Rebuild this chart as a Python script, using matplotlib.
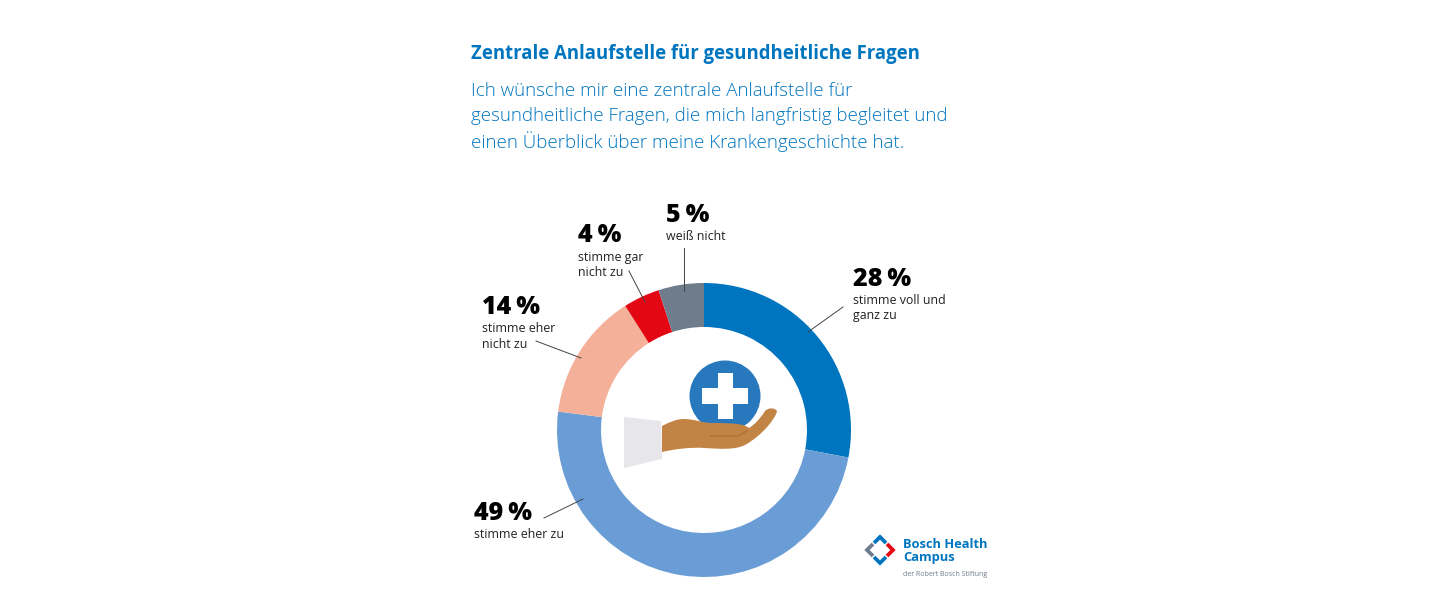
import matplotlib
matplotlib.use("Agg")
import matplotlib.pyplot as plt
from matplotlib.patches import Circle, Polygon, PathPatch
from matplotlib.path import Path

# --- Daten ---
shares = [28, 49, 14, 4, 5]
share_labels = ["28\u2009%", "49\u2009%", "14\u2009%", "4\u2009%", "5\u2009%"]
answers = ["stimme voll und\nganz zu", "stimme eher zu", "stimme eher\nnicht zu",
           "stimme gar\nnicht zu", "weiß nicht"]
colors = ["#0075BF", "#6A9DD6", "#F5B09A", "#E30613", "#6F7C8C"]
title = "Zentrale Anlaufstelle für gesundheitliche Fragen"
subtitle = ["Ich wünsche mir eine zentrale Anlaufstelle für",
            "gesundheitliche Fragen, die mich langfristig begleitet und",
            "einen Überblick über meine Krankengeschichte hat."]

W, H = 1440, 604
BLUE = "#0075BF"
plt.rcParams["font.family"] = ["Open Sans", "DejaVu Sans"]

fig = plt.figure(figsize=(W / 100, H / 100), dpi=100, facecolor="white")

# --- Ring ---
cx, cy, R = 704, 430, 147
ax = fig.add_axes([(cx - R) / W, 1 - (cy + R) / H, 2 * R / W, 2 * R / H])
ax.pie(shares, colors=colors, startangle=90, counterclock=False, radius=1,
       wedgeprops=dict(width=44 / 147, linewidth=0))
ax.set_xlim(-1, 1)
ax.set_ylim(-1, 1)
ax.set_aspect("equal")
ax.axis("off")

# Overlay in Pixelkoordinaten (y nach unten)
top = fig.add_axes([0, 0, 1, 1])
top.set_xlim(0, W)
top.set_ylim(H, 0)
top.axis("off")
top.patch.set_alpha(0)

# --- Überschriften ---
top.text(471, 54, title, fontsize=13.35, fontweight="bold", color=BLUE, va="center")
for i, line in enumerate(subtitle):
    top.text(471, 90.5 + i * 25.5, line, fontsize=13.5, fontweight="light", color=BLUE, va="center")

# --- Beschriftungen ---
label_pos = [(853, 279), (474, 513), (482, 308), (578, 236), (666, 215)]
leaders = [((843, 307), (808, 332)), ((544, 518), (583, 499)), ((536, 341), (581, 358)),
           ((629, 271), (645, 302)), ((684, 248), (684, 291))]
for lab, txt, (x, y), (p0, p1) in zip(share_labels, answers, label_pos, leaders):
    top.text(x, y, lab, fontsize=18, fontweight=800, color="black", va="center")
    top.text(x, y + 14.5, txt, fontsize=8.9, color="#222222", va="top", linespacing=1.28)
    top.plot([p0[0], p1[0]], [p0[1], p1[1]], color="#444444", lw=0.7)

# --- Hand mit Kreuz ---
top.add_patch(Circle((725, 396), 35.5, fc="#2878BE", ec="none"))
top.add_patch(Polygon([(718, 373), (733, 373), (733, 388), (748, 388), (748, 404), (733, 404),
                       (733, 419), (718, 419), (718, 404), (702, 404), (702, 388), (718, 388)],
                      fc="white", ec="none"))
top.add_patch(Polygon([(624, 417), (661, 421), (662, 459), (624, 468)], fc="#E6E6EB", ec="none"))
C = Path.CURVE4
L = Path.LINETO
hand_verts = [(662, 426), (670, 422), (676, 419), (684, 419),
              (695, 419), (702, 423), (712, 423),
              (722, 423), (735, 423), (743, 425),
              (746, 426), (748, 427), (749, 428),
              (754, 425), (760, 419), (765, 411),
              (768, 408), (774, 407), (777, 411),
              (776, 416), (772, 421), (768, 426),
              (762, 433), (754, 440), (745, 445),
              (735, 450), (720, 449), (705, 448),
              (690, 447), (675, 449), (662, 452), (662, 426)]
hand_codes = [Path.MOVETO, C, C, C, C, C, C, C, C, C, C, C, C, C, C, C, C, C, C, C, C, C,
              C, C, C, C, C, C, C, C, C, L]
top.add_patch(PathPatch(Path(hand_verts, hand_codes), fc="#C28444", ec="none"))
top.plot([710, 738, 747], [436, 436, 431], color="#A86E32", lw=0.8)

# --- Logo ---
logo_parts = [
    ([(874, 543), (880, 537), (886, 543)], "#0075BF"),
    ([(874, 557), (880, 563), (886, 557)], "#0075BF"),
    ([(873, 544), (867, 550), (873, 556)], "#6F7C8C"),
    ([(887, 544), (893, 550), (887, 556)], "#E30613"),
]
for pts, c in logo_parts:
    top.plot(*zip(*pts), color=c, lw=2.7, solid_joinstyle="miter", solid_capstyle="butt")
top.text(903, 544, "Bosch Health", fontsize=9.3, fontweight="bold", color=BLUE, va="center")
top.text(903, 558, "Campus", fontsize=9.3, fontweight="bold", color=BLUE, va="center")
top.text(903, 574, "der Robert Bosch Stiftung", fontsize=5, color="#6F7C8C", va="center")

fig.savefig("out.png", dpi=100, facecolor="white")
